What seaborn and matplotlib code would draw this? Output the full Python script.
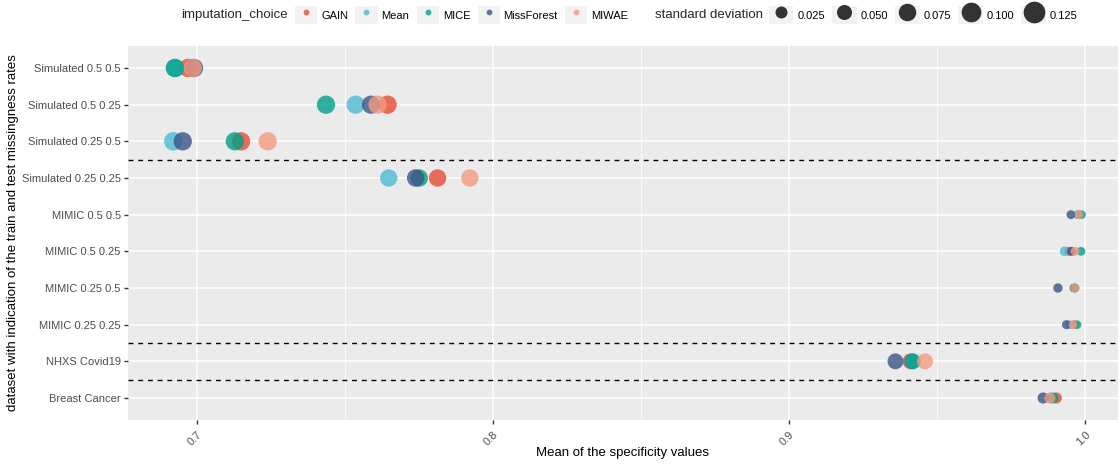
import numpy as np
import pandas as pd
import seaborn as sns
import matplotlib
matplotlib.use("Agg")
import matplotlib.pyplot as plt
from matplotlib.lines import Line2D
from matplotlib.patches import Rectangle
from matplotlib.legend_handler import HandlerTuple

# ---- data -------------------------------------------------------------
datasets = [
    "Simulated 0.5 0.5", "Simulated 0.5 0.25", "Simulated 0.25 0.5",
    "Simulated 0.25 0.25", "MIMIC 0.5 0.5", "MIMIC 0.5 0.25",
    "MIMIC 0.25 0.5", "MIMIC 0.25 0.25", "NHXS Covid19", "Breast Cancer",
]
methods = ["GAIN", "Mean", "MICE", "MissForest", "MIWAE"]

spec_gain = [0.6970, 0.7644, 0.7149, 0.7813, 0.9978, 0.9946, 0.9963, 0.9965, 0.9411, 0.9904]
spec_mean = [0.6925, 0.7536, 0.6920, 0.7648, 0.9975, 0.9932, 0.9966, 0.9950, 0.9420, 0.9885]
spec_mice = [0.6926, 0.7436, 0.7128, 0.7751, 0.9989, 0.9987, 0.9966, 0.9974, 0.9417, 0.9893]
spec_missforest = [0.6990, 0.7588, 0.6952, 0.7739, 0.9953, 0.9955, 0.9909, 0.9938, 0.9360, 0.9859]
spec_miwae = [0.6986, 0.7610, 0.7239, 0.7922, 0.9980, 0.9967, 0.9967, 0.9960, 0.9460, 0.9882]

sd_gain = [0.085, 0.084, 0.084, 0.074, 0.004, 0.005, 0.005, 0.004, 0.058, 0.018]
sd_mean = [0.084, 0.084, 0.086, 0.074, 0.004, 0.010, 0.005, 0.004, 0.058, 0.018]
sd_mice = [0.085, 0.084, 0.084, 0.074, 0.003, 0.004, 0.004, 0.003, 0.059, 0.017]
sd_missforest = [0.084, 0.083, 0.084, 0.075, 0.005, 0.006, 0.008, 0.006, 0.058, 0.019]
sd_miwae = [0.085, 0.084, 0.084, 0.074, 0.004, 0.005, 0.005, 0.004, 0.059, 0.018]

sd_breaks = [0.025, 0.050, 0.075, 0.100, 0.125]
sd_break_labels = ["0.025", "0.050", "0.075", "0.100", "0.125"]

colors = ["#E64B35", "#4DBBD5", "#00A087", "#3C5488", "#F39B7F"]
palette = dict(zip(methods, colors))

spec_all = [spec_gain, spec_mean, spec_mice, spec_missforest, spec_miwae]
sd_all = [sd_gain, sd_mean, sd_mice, sd_missforest, sd_miwae]
df = pd.concat(
    [pd.DataFrame({"dataset": datasets, "specificity": s, "sd": d,
                   "imputation_choice": m})
     for m, s, d in zip(methods, spec_all, sd_all)],
    ignore_index=True,
)

# ---- style ------------------------------------------------------------
sns.set_style("darkgrid", {
    "axes.facecolor": "#EBEBEB",
    "grid.color": "white",
    "axes.edgecolor": "none",
})
plt.rcParams["font.family"] = ["Liberation Sans", "DejaVu Sans"]

small_fs = 8.0
title_fs = 9.5
size_range = (32.7, 242.7)
size_norm = (0.0, 0.125)
alpha = 0.8

W, H = 1120, 466
fig = plt.figure(figsize=(W / 100, H / 100), dpi=100)
ax = fig.add_axes([128 / W, 46 / H, 990 / W, 374 / H])

sns.scatterplot(
    data=df, x="specificity", y="dataset",
    hue="imputation_choice", hue_order=methods, palette=palette,
    size="sd", sizes=size_range, size_norm=size_norm,
    alpha=alpha, linewidth=0, legend=False, ax=ax, zorder=3,
)

ax.set_ylim(len(datasets) - 0.4, -0.6)
ax.set_xlim(0.6767, 1.0112)
ax.set_xticks([0.7, 0.8, 0.9, 1.0])
ax.set_xticklabels(["0.7", "0.8", "0.9", "1.0"], rotation=45,
                   ha="right", va="top", rotation_mode="anchor")
ax.set_xticks([0.75, 0.85, 0.95], minor=True)
ax.grid(which="major", color="white", linewidth=1.1)
ax.grid(which="minor", axis="x", color="white", linewidth=0.55)
ax.set_axisbelow(True)

for yv in [2.5, 7.5, 8.5]:
    ax.axhline(yv, color="black", linewidth=1.0, linestyle=(0, (3.5, 3.5)),
               zorder=4)

ax.tick_params(axis="both", which="major", length=3.0, width=1.0,
               color="#333333", labelcolor="#4D4D4D", labelsize=small_fs,
               pad=2.2)
ax.tick_params(axis="x", which="major", pad=4)
ax.tick_params(axis="x", which="minor", length=0)
ax.tick_params(left=True, bottom=True)
for sp in ax.spines.values():
    sp.set_visible(False)

ax.set_xlabel("Mean of the specificity values", fontsize=title_fs,
              color="black")
ax.xaxis.set_label_coords(0.5, -(453 - 420) / 374)
ax.xaxis.label.set_va("center")
ax.set_ylabel("dataset with indication of the train and test missingness rates",
              fontsize=title_fs, color="black")
ax.yaxis.set_label_coords(-(128 - 13) / 990, 0.5)
ax.yaxis.label.set_va("center")

# ---- legends ----------------------------------------------------------
key_bg = "#F2F2F2"
ytop = 1 - 15 / H

color_handles = [
    (Rectangle((0, 0), 1, 1, facecolor=key_bg, edgecolor="none"),
     Line2D([], [], linestyle="none", marker="o", markersize=4.2,
            markerfacecolor=palette[m], markeredgewidth=0, alpha=alpha))
    for m in methods
]


def legend_diameter(v):
    lo, hi = size_range
    a = lo + (v - size_norm[0]) / (size_norm[1] - size_norm[0]) * (hi - lo)
    return np.sqrt(a)


size_handles = [
    (Rectangle((0, 0), 1, 1, facecolor=key_bg, edgecolor="none"),
     Line2D([], [], linestyle="none", marker="o",
            markersize=legend_diameter(v),
            markerfacecolor="#333333", markeredgewidth=0))
    for v in sd_breaks
]

common = dict(
    frameon=False, fontsize=small_fs, handleheight=2.0,
    handletextpad=0.35, columnspacing=0.65, borderpad=0, borderaxespad=0,
    loc="center left", numpoints=1,
    handler_map={tuple: HandlerTuple(ndivide=1, pad=0)},
)

fig.text(181 / W, ytop, "imputation_choice", fontsize=title_fs, va="center",
         ha="left")
leg1 = fig.legend(color_handles, methods, ncol=len(methods),
                  bbox_to_anchor=(295 / W, ytop), handlelength=2.0, **common)

fig.text(655 / W, ytop, "standard deviation", fontsize=title_fs, va="center",
         ha="left")
leg2 = fig.legend(size_handles, sd_break_labels, ncol=len(sd_breaks),
                  bbox_to_anchor=(769 / W, ytop), handlelength=2.2, **common)
for lg in (leg1, leg2):
    for t in lg.get_texts():
        t.set_color("black")

fig.savefig("out.png", dpi=100)
